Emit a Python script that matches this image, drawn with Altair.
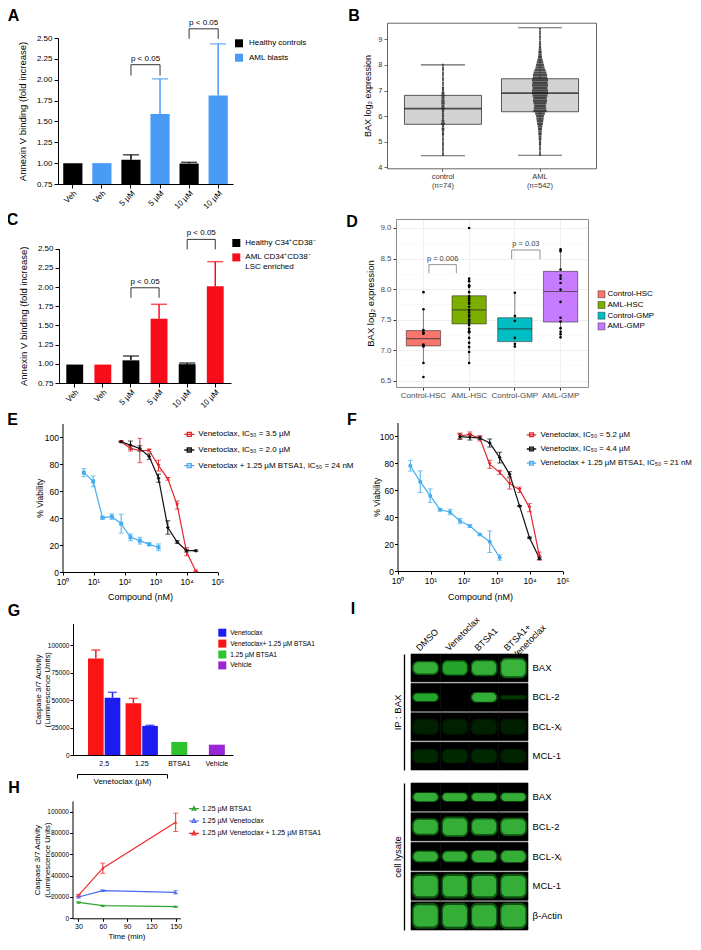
import altair as alt
import pandas as pd

W, H = 685, 934
FONT = "Liberation Sans"


def X(v):
    return v - 8


def Y(v):
    return v - 8


def off_b(y):
    return Y(y) - H


def off_l(x):
    return -X(x)


def off_t(y):
    return -Y(y)


def off_r(x):
    return X(x) - W


# ======================= DATA =======================
# ---- Panel A
a_ids = ["Veh|H", "Veh|A", "5 µM|H", "5 µM|A", "10 µM|H", "10 µM|A"]
a_series = ["Healthy controls", "AML blasts"]
a_grp = ["Healthy controls", "AML blasts", "Healthy controls", "AML blasts", "Healthy controls", "AML blasts"]
a_mean = [1.00, 1.00, 1.04, 1.59, 0.995, 1.81]
a_err = [0.0, 0.0, 0.06, 0.42, 0.015, 0.62]
a_br_left = ["5 µM|H", "10 µM|H"]
a_br_right = ["5 µM|A", "10 µM|A"]
a_br_top = [2.18, 2.61]
a_br_leg = [2.05, 2.49]
a_br_txt = ["p < 0.05", "p < 0.05"]

# ---- Panel C
c_series = ["Healthy C34⁺CD38⁻", "AML CD34⁺CD38⁻|LSC enriched"]
c_grp = [c_series[0], c_series[1], c_series[0], c_series[1], c_series[0], c_series[1]]
c_mean = [0.99, 0.99, 1.045, 1.585, 0.995, 2.01]
c_err = [0.0, 0.0, 0.055, 0.19, 0.015, 0.32]
c_br_top = [1.99, 2.62]
c_br_leg = [1.86, 2.49]

# ---- Panel B
b_cats = ["control|(n=74)", "AML|(n=542)"]
b_lo = [4.45, 4.47]
b_q1 = [5.68, 6.17]
b_med = [6.29, 6.90]
b_q3 = [6.81, 7.46]
b_hi = [8.00, 9.45]
b_ctrl_y = [4.5, 4.6, 4.7, 4.8, 4.9, 5.0, 5.1, 5.2, 5.3, 5.4, 5.5, 5.6, 5.7, 5.8, 5.9, 6.0, 6.1, 6.2,
            6.3, 6.4, 6.5, 6.6, 6.7, 6.8, 6.9, 7.0, 7.1, 7.2, 7.3, 7.4, 7.5, 7.6, 7.7, 7.8, 7.9, 8.0]
b_ctrl_n = [1, 1, 1, 1, 1, 1, 1, 1, 2, 2, 3, 2, 5, 3, 2, 2, 2, 2,
            4, 3, 4, 4, 3, 4, 3, 2, 2, 1, 1, 1, 1, 1, 1, 1, 1, 1]
b_aml_y = [4.5, 4.6, 4.7, 4.8, 4.9, 5.0, 5.1, 5.2, 5.3, 5.4, 5.5, 5.6, 5.7, 5.8, 5.9, 6.0, 6.1, 6.2,
           6.3, 6.4, 6.5, 6.6, 6.7, 6.8, 6.9, 7.0, 7.1, 7.2, 7.3, 7.4, 7.5, 7.6, 7.7, 7.8, 7.9, 8.0,
           8.1, 8.2, 8.3, 8.4, 8.5, 8.6, 8.7, 8.8, 8.9, 9.0, 9.1, 9.2, 9.3, 9.4]
b_aml_n = [1, 1, 1, 1, 2, 2, 3, 3, 4, 4, 5, 6, 8, 9, 10, 11, 14, 20,
           18, 17, 19, 21, 20, 22, 24, 24, 22, 24, 23, 24, 22, 21, 19, 16, 13, 11,
           9, 7, 5, 4, 4, 3, 2, 2, 1, 1, 1, 1, 1, 1]

# ---- Panel D
d_cats = ["Control-HSC", "AML-HSC", "Control-GMP", "AML-GMP"]
d_colors = ["#F8766D", "#7CAE00", "#00BFC4", "#C77CFF"]
d_lo = [6.79, 6.79, 7.07, 7.20]
d_q1 = [7.07, 7.43, 7.14, 7.46]
d_med = [7.19, 7.66, 7.35, 7.96]
d_q3 = [7.32, 7.89, 7.53, 8.29]
d_hi = [7.67, 8.17, 7.94, 8.65]
d_pts = {
    "Control-HSC": [7.95, 7.67, 7.33, 7.29, 7.27, 7.09, 7.07, 7.06, 6.79, 6.56],
    "AML-HSC": [9.0, 8.17, 8.13, 8.06, 8.05, 8.04, 7.95, 7.88, 7.85, 7.82, 7.78, 7.76, 7.71, 7.66,
                7.62, 7.58, 7.55, 7.50, 7.48, 7.45, 7.41, 7.35, 7.31, 7.30, 7.29, 7.20, 7.12, 7.05,
                6.97, 6.79],
    "Control-GMP": [7.94, 7.56, 7.48, 7.20, 7.10, 7.06],
    "AML-GMP": [8.65, 8.62, 8.32, 8.22, 8.17, 8.10, 7.99, 7.79, 7.53, 7.47, 7.36, 7.30, 7.26, 7.21],
}
d_br_x1 = [1.12, 2.93]
d_br_x2 = [1.72, 3.55]
d_br_top = [8.40, 8.64]
d_br_leg = [8.26, 8.49]
d_br_txt = ["p = 0.006", "p = 0.03"]

# ---- Panel E
e_names = ["Venetoclax, IC₅₀ = 3.5 µM", "Venetoclax, IC₅₀ = 2.0 µM", "Venetoclax + 1.25 µM BTSA1, IC₅₀ = 24 nM"]
e_conc_v = [78, 156, 312, 625, 1250, 2500, 5000, 10000, 20000]
e_conc_c = [4.88, 9.77, 19.5, 39, 78, 156, 312, 625, 1250]
e_red = [96.5, 91.6, 90.0, 90.0, 78.8, 69.0, 49.6, 15.0, 0.5]
e_red_err = [0.5, 2.0, 9.0, 1.0, 4.0, 1.0, 3.0, 3.0, 0.0]
e_black = [96.5, 94.0, 91.5, 85.5, 69.5, 33.0, 22.2, 15.8, 15.8]
e_black_err = [0.5, 3.0, 2.0, 2.0, 3.0, 5.0, 1.0, 1.0, 0.5]
e_blue = [73.6, 67.2, 40.2, 41.0, 35.8, 25.7, 23.2, 20.5, 18.3]
e_blue_err = [3.0, 4.0, 1.0, 2.0, 7.0, 2.5, 2.5, 1.0, 2.5]

# ---- Panel F
f_names = ["Venetoclax, IC₅₀ = 5.2 µM", "Venetoclax, IC₅₀ = 4.4 µM", "Venetoclax + 1.25 µM BTSA1, IC₅₀ = 21 nM"]
f_conc_v = [78, 156, 312, 625, 1250, 2500, 5000, 10000, 20000]
f_conc_c = [2.44, 4.88, 9.77, 19.5, 39, 78, 156, 312, 625, 1250]
f_red = [100.2, 101.0, 98.3, 79.0, 73.1, 64.7, 60.2, 46.9, 11.0]
f_red_err = [2.0, 2.0, 2.0, 3.0, 1.5, 4.0, 2.0, 3.0, 3.0]
f_black = [99.5, 99.0, 98.5, 94.8, 84.0, 71.6, 48.1, 24.7, 9.5]
f_black_err = [2.0, 2.0, 1.0, 3.0, 4.0, 2.0, 0.5, 0.5, 1.0]
f_blue = [78.0, 66.2, 55.8, 45.4, 43.7, 37.0, 33.3, 27.0, 21.7, 10.0]
f_blue_err = [4.0, 8.0, 5.0, 1.0, 2.0, 2.0, 1.0, 0.5, 8.0, 2.0]

# ---- Panel G
g_groups = ["2.5", "1.25", "BTSA1", "Vehicle"]
g_series = ["Venetoclax", "Venetoclax+ 1.25 µM BTSA1", "1.25 µM BTSA1", "Vehicle"]
g_colors = ["#1c1cf2", "#fa1414", "#2fc42f", "#9a25d4"]
g_pair_group = ["2.5", "2.5", "1.25", "1.25"]
g_pair_series = ["Venetoclax+ 1.25 µM BTSA1", "Venetoclax", "Venetoclax+ 1.25 µM BTSA1", "Venetoclax"]
g_pair_mean = [88000, 52300, 47200, 26500]
g_pair_err = [7800, 4900, 4500, 600]
g_single_group = ["BTSA1", "Vehicle"]
g_single_series = ["1.25 µM BTSA1", "Vehicle"]
g_single_mean = [11900, 9400]

# ---- Panel H
h_series = ["1.25 µM BTSA1", "1.25 µM Venetoclax", "1.25 µM Venetoclax +  1.25 µM BTSA1"]
h_colors = ["#2ea42e", "#4767f0", "#ec2a2a"]
h_time = [30, 60, 150]
h_vals = [[15000, 11800, 10900], [20000, 26000, 24400], [21500, 47000, 90000]]
h_errs = [[500, 400, 400], [900, 700, 1500], [900, 4800, 8600]]

# ---- Panel I (western blot: band amount = thickness, signal = brightness)
blot_lanes = ["DMSO", "Venetoclax", "BTSA1", "BTSA1+|Venetoclax"]
ip_rows = ["BAX", "BCL-2", "BCL-Xₗ", "MCL-1"]
ip_amount = [[0.42, 0.48, 0.50, 0.62], [0.28, 0.0, 0.32, 0.14], [0.5, 0.5, 0.5, 0.5], [0.45, 0.45, 0.45, 0.45]]
ip_signal = [[0.95, 0.90, 0.95, 0.97], [0.90, 0.0, 0.95, 0.25], [0.05, 0.06, 0.05, 0.04], [0.15, 0.15, 0.15, 0.12]]
ly_rows = ["BAX", "BCL-2", "BCL-Xₗ", "MCL-1", "β-Actin"]
ly_amount = [[0.30, 0.28, 0.28, 0.28], [0.52, 0.62, 0.54, 0.56], [0.36, 0.36, 0.40, 0.40],
             [0.75, 0.75, 0.75, 0.75], [0.78, 0.80, 0.78, 0.80]]
ly_signal = [[0.95, 0.95, 0.95, 0.95], [0.95, 0.95, 0.95, 0.95], [0.95, 0.95, 0.95, 0.95],
             [0.95, 0.95, 0.95, 0.95], [0.95, 0.95, 0.95, 0.95]]

panel_letters = {"A": (13.5, 16), "B": (354, 16), "C": (12.5, 220), "D": (352, 222),
                 "E": (12.5, 419.5), "F": (352, 420), "G": (14, 611), "H": (14, 787.5), "I": (353, 609)}


def inner(*charts):
    return alt.layer(*charts).resolve_axis(x="independent", y="independent").resolve_legend(
        color="independent", shape="independent", size="independent")


# ======================= BUILDERS =======================
def bar_panel(ids, grp, mean, err, series, colors, br_left, br_right, br_top, br_leg, br_txt,
              xr, pin, pout, yb, yt, ax_x, title_x, leg):
    df = pd.DataFrame({"id": ids, "grp": grp, "mean": mean, "err": err})
    df["top"] = df["mean"] + df["err"]
    de = df[df["err"] > 0]
    xs = alt.Scale(domain=ids, range=[X(xr[0]), X(xr[1])], paddingInner=pin, paddingOuter=pout)
    ys = alt.Scale(domain=[0.75, 2.5], range=[Y(yb), Y(yt)], zero=False, nice=False)
    cs = alt.Scale(domain=series, range=colors)
    step = (xr[1] - xr[0]) / (len(ids) - pin + 2 * pout)
    xax = alt.Axis(orient="bottom", offset=off_b(yb), title=None, labelExpr="split(datum.value, '|')[0]",
                   labelAngle=315, labelAlign="right", labelBaseline="top", tickSize=4, labelPadding=1,
                   bandPosition=0.5, labelFontSize=8, labelOverlap=False)
    yax = alt.Axis(orient="left", offset=off_l(ax_x), title="Annexin V binding (fold increase)",
                   values=[0.75, 1.0, 1.25, 1.5, 1.75, 2.0, 2.25, 2.5], format=".2f", tickSize=4,
                   labelPadding=2, labelFontSize=8, titleFontSize=9.5, titleX=title_x - ax_x,
                   titleBaseline="middle")
    bars = alt.Chart(df).mark_bar().encode(
        x=alt.X("id:N", scale=xs, axis=xax),
        y=alt.Y("mean:Q", scale=ys, axis=yax),
        y2=alt.datum(0.75),
        color=alt.Color("grp:N", scale=cs, legend=leg))
    xe = alt.X("id:N", scale=xs, axis=None)
    rule = alt.Chart(de).mark_rule(strokeWidth=1.5).encode(
        x=xe, y=alt.Y("mean:Q", scale=ys, axis=None), y2="top:Q",
        color=alt.Color("grp:N", scale=cs, legend=None))
    cap = alt.Chart(de).mark_tick(orient="horizontal", size=16, thickness=1.5).encode(
        x=xe, y=alt.Y("top:Q", scale=ys, axis=None), color=alt.Color("grp:N", scale=cs, legend=None))
    rows = []
    for i in range(len(br_left)):
        pts = [(br_left[i], br_leg[i]), (br_left[i], br_top[i]), (br_right[i], br_top[i]), (br_right[i], br_leg[i])]
        for o, (cx, cy) in enumerate(pts):
            rows.append({"b": i, "o": o, "cx": cx, "cy": cy})
    bdf = pd.DataFrame(rows)
    brl = alt.Chart(bdf).mark_line(color="black", strokeWidth=0.8).encode(
        x=alt.X("cx:N", scale=xs, axis=None), y=alt.Y("cy:Q", scale=ys, axis=None),
        detail="b:N", order="o:Q")
    tdf = pd.DataFrame({"cx": br_left, "cy": br_top, "t": br_txt})
    brt = alt.Chart(tdf).mark_text(dx=step / 2, dy=-2, baseline="bottom", fontSize=8).encode(
        x=alt.X("cx:N", scale=xs, axis=None), y=alt.Y("cy:Q", scale=ys, axis=None), text="t:N")
    return inner(bars, rule, cap, brl, brt)


def dose_panel(names, colors, shapes, concs, vals, errs, xr, yb, yt, ax_x, title_x, title_y, leg):
    rows = []
    for n, cc, vv, ee in zip(names, concs, vals, errs):
        for c, v, e in zip(cc, vv, ee):
            rows.append({"s": n, "c": c, "v": v, "lo": v - e, "hi": v + e})
    df = pd.DataFrame(rows)
    xs = alt.Scale(type="log", domain=[1, 100000], range=[X(xr[0]), X(xr[1])], nice=False)
    ys = alt.Scale(domain=[0, 110], range=[Y(yb), Y(yt)], nice=False, zero=False)
    cs = alt.Scale(domain=names, range=colors)
    ss = alt.Scale(domain=names, range=shapes)
    sup = "'10' + ['⁰','¹','²','³','⁴','⁵'][round(log(datum.value) / LN10)]"
    xax = alt.Axis(orient="bottom", offset=off_b(yb), values=[1, 10, 100, 1000, 10000, 100000],
                   labelExpr=sup, title="Compound (nM)", tickSize=3, labelPadding=2, labelFontSize=8.5,
                   titleFontSize=9, titleY=title_y - yb, titleBaseline="middle", labelFlush=False,
                   labelOverlap=False)
    yax = alt.Axis(orient="left", offset=off_l(ax_x), values=[0, 20, 40, 60, 80, 100], title="% Viability",
                   tickSize=3, labelPadding=1, labelFontSize=8.5, titleFontSize=8.5,
                   titleX=title_x - ax_x, titleBaseline="middle")
    xe = alt.X("c:Q", scale=xs, axis=None)
    line = alt.Chart(df).mark_line(strokeWidth=1.2).encode(
        x=alt.X("c:Q", scale=xs, axis=xax), y=alt.Y("v:Q", scale=ys, axis=yax),
        color=alt.Color("s:N", scale=cs, legend=leg))
    rule = alt.Chart(df).mark_rule(strokeWidth=1).encode(
        x=xe, y=alt.Y("lo:Q", scale=ys, axis=None), y2="hi:Q", color=alt.Color("s:N", scale=cs, legend=None))
    cap_lo = alt.Chart(df).mark_tick(orient="horizontal", size=5, thickness=1).encode(
        x=xe, y=alt.Y("lo:Q", scale=ys, axis=None), color=alt.Color("s:N", scale=cs, legend=None))
    cap_hi = alt.Chart(df).mark_tick(orient="horizontal", size=5, thickness=1).encode(
        x=xe, y=alt.Y("hi:Q", scale=ys, axis=None), color=alt.Color("s:N", scale=cs, legend=None))
    pts = alt.Chart(df).mark_point(filled=True, size=16, opacity=1).encode(
        x=xe, y=alt.Y("v:Q", scale=ys, axis=None),
        color=alt.Color("s:N", scale=cs, legend=None), shape=alt.Shape("s:N", scale=ss, legend=None))
    return inner(line, rule, cap_lo, cap_hi, pts)


def blot_section(rows, amounts, signals, y0, y1, title, show_lanes):
    bg = pd.DataFrame([{"lane": l, "row": r} for r in rows for l in blot_lanes])
    bands = pd.DataFrame([{"lane": l, "row": r, "amt": amounts[i][j], "sig": signals[i][j]}
                          for i, r in enumerate(rows) for j, l in enumerate(blot_lanes)])
    xs = alt.Scale(domain=blot_lanes, range=[X(411), X(528)], paddingInner=0, paddingOuter=0)
    ys = alt.Scale(domain=rows, range=[Y(y0), Y(y1)], paddingInner=0.05, paddingOuter=0)
    if show_lanes:
        top_axis = alt.Axis(orient="top", offset=off_t(y0), labelAngle=315, labelAlign="left",
                            labelBaseline="middle", labelExpr="split(datum.value, '|')", ticks=False,
                            domain=False, labelPadding=5, labelOffset=-8, title=None, labelFontSize=9,
                            labelOverlap=False, labelBound=False)
    else:
        top_axis = None
    bgl = alt.Chart(bg).mark_rect(color="black", stroke="black", strokeWidth=0.6).encode(
        x=alt.X("lane:N", scale=xs, axis=top_axis),
        y=alt.Y("row:N", scale=ys, axis=alt.Axis(orient="right", offset=off_r(528), ticks=False,
                                                 domain=False, labelPadding=4, labelFontSize=9.5,
                                                 title=None)))
    side = alt.Chart(bg).mark_rect(opacity=0).encode(
        x=alt.X("lane:N", scale=xs, axis=None),
        y=alt.Y("row:N", scale=ys, axis=alt.Axis(orient="left", offset=off_l(404), labels=False, ticks=False,
                                                 domainWidth=1.3, title=title, titleFontSize=9.5,
                                                 titleX=-7, titleBaseline="middle")))
    xb = alt.X("lane:N", scale=xs, axis=None)
    yb = alt.Y("row:N", scale=ys, axis=None)
    glow = alt.Chart(bands).mark_tick(orient="vertical", thickness=27, cornerRadius=6).encode(
        x=xb, y=yb,
        size=alt.Size("amt:Q", scale=alt.Scale(domain=[0, 1], range=[0, 33]), legend=None),
        color=alt.Color("sig:Q", scale=alt.Scale(domain=[0, 1], range=["#000000", "#1d7a1d"]), legend=None))
    core = alt.Chart(bands).mark_tick(orient="vertical", thickness=24, cornerRadius=5).encode(
        x=xb, y=yb,
        size=alt.Size("amt:Q", scale=alt.Scale(domain=[0, 1], range=[0, 27]), legend=None),
        color=alt.Color("sig:Q", scale=alt.Scale(domain=[0, 1], range=["#000000", "#52e252"]), legend=None))
    return alt.layer(bgl, glow, core, side).resolve_scale(size="independent", color="independent").resolve_axis(
        x="independent", y="independent")


# ======================= PANELS =======================
layers = []

# ---- A
legA = alt.Legend(orient="none", legendX=X(235), legendY=Y(39.3), title=None, symbolType="square",
                  symbolSize=64, symbolStrokeWidth=0, labelFontSize=8, labelOffset=6, rowPadding=6.4, padding=0)
layers.append(bar_panel(a_ids, a_grp, a_mean, a_err, a_series, ["#000000", "#4a9bf5"],
                        a_br_left, a_br_right, a_br_top, a_br_leg, a_br_txt,
                        (58, 233), 0.34, 0.18, 184, 38, 58, 22.7, legA))

# ---- C
legC = alt.Legend(orient="none", legendX=X(232.3), legendY=Y(239), title=None, symbolType="square",
                  symbolSize=64, symbolStrokeWidth=0, labelFontSize=8, labelOffset=5, rowPadding=6.4,
                  padding=0, labelExpr="split(datum.label, '|')")
layers.append(bar_panel(a_ids, c_grp, c_mean, c_err, c_series, ["#000000", "#f70d1a"],
                        a_br_left, a_br_right, c_br_top, c_br_leg, a_br_txt,
                        (59, 231), 0.40, 0.26, 383, 248.6, 59, 23.5, legC))

# ---- B
b_df = pd.DataFrame({"cat": b_cats, "lo": b_lo, "q1": b_q1, "med": b_med, "q3": b_q3, "hi": b_hi})
b_sw = pd.DataFrame({"cat": [b_cats[0]] * len(b_ctrl_y) + [b_cats[1]] * len(b_aml_y),
                     "y": b_ctrl_y + b_aml_y, "n": b_ctrl_n + b_aml_n})
xs_b = alt.Scale(domain=b_cats, range=[X(387), X(596)], paddingInner=0.206, paddingOuter=0.18)
ys_b = alt.Scale(domain=[3.96, 9.65], range=[Y(168.3), Y(22.7)], nice=False, zero=False)
xbn = alt.X("cat:N", scale=xs_b, axis=None)
b_box = alt.Chart(b_df).mark_bar(fill="#d3d3d3", stroke="#333333", strokeWidth=0.8).encode(
    x=alt.X("cat:N", scale=xs_b, axis=alt.Axis(orient="bottom", offset=off_b(168.3), title=None,
                                               labelExpr="split(datum.value, '|')", tickSize=3, labelPadding=1,
                                               labelAngle=0, labelFontSize=7.5, labelColor="#333333",
                                               domainColor="#666666", tickColor="#666666", bandPosition=0.5)),
    y=alt.Y("q1:Q", scale=ys_b, axis=alt.Axis(orient="left", offset=off_l(387), values=[4, 5, 6, 7, 8, 9],
                                              title="BAX log₂ expression", tickSize=3, labelFontSize=7.5,
                                              labelColor="#333333", domainColor="#666666", tickColor="#666666",
                                              titleFontSize=9, titleX=367.5 - 387, titleBaseline="middle")),
    y2="q3:Q")
b_w1 = alt.Chart(b_df).mark_rule(color="#333333", strokeWidth=0.8, strokeDash=[3, 2]).encode(
    x=xbn, y=alt.Y("lo:Q", scale=ys_b, axis=None), y2="q1:Q")
b_w2 = alt.Chart(b_df).mark_rule(color="#333333", strokeWidth=0.8, strokeDash=[3, 2]).encode(
    x=xbn, y=alt.Y("q3:Q", scale=ys_b, axis=None), y2="hi:Q")
b_c1 = alt.Chart(b_df).mark_tick(orient="horizontal", size=44, thickness=1.1, color="#222222").encode(
    x=xbn, y=alt.Y("lo:Q", scale=ys_b, axis=None))
b_c2 = alt.Chart(b_df).mark_tick(orient="horizontal", size=44, thickness=1.1, color="#222222").encode(
    x=xbn, y=alt.Y("hi:Q", scale=ys_b, axis=None))
b_swarm = alt.Chart(b_sw).mark_tick(orient="horizontal", thickness=2.4, color="#2a2a2a", opacity=0.85).encode(
    x=xbn, y=alt.Y("y:Q", scale=ys_b, axis=None),
    size=alt.Size("n:Q", scale=alt.Scale(domain=[1, 24], range=[1.5, 16], zero=False), legend=None))
b_med_l = alt.Chart(b_df).mark_tick(orient="horizontal", size=77, thickness=1.8, color="#111111").encode(
    x=xbn, y=alt.Y("med:Q", scale=ys_b, axis=None))
b_frame = alt.Chart(b_df).mark_point(opacity=0).encode(
    x=alt.X("cat:N", scale=xs_b, axis=alt.Axis(orient="top", offset=off_t(22.7), labels=False, ticks=False,
                                               title=None, domainColor="#666666")),
    y=alt.Y("med:Q", scale=ys_b, axis=alt.Axis(orient="right", offset=off_r(596), labels=False, ticks=False,
                                               title=None, domainColor="#666666")))
layers.append(inner(b_box, b_w1, b_w2, b_c1, b_c2, b_swarm, b_med_l, b_frame))

# ---- D
d_df = pd.DataFrame({"cat": d_cats, "lo": d_lo, "q1": d_q1, "med": d_med, "q3": d_q3, "hi": d_hi})
d_pt = pd.DataFrame([{"cat": k, "v": v} for k in d_cats for v in d_pts[k]])
xs_d = alt.Scale(domain=d_cats, range=[X(396), X(588)], paddingInner=0.25, paddingOuter=0.225)
ys_d = alt.Scale(domain=[6.397, 9.147], range=[Y(387), Y(219)], nice=False, zero=False)
cs_d = alt.Scale(domain=d_cats, range=d_colors)
xdn = alt.X("cat:N", scale=xs_d, axis=None)
legD = alt.Legend(orient="none", legendX=X(597.5), legendY=Y(290.3), title=None, symbolType="square",
                  symbolSize=49, symbolStrokeColor="#333333", symbolStrokeWidth=0.5, labelFontSize=8,
                  labelOffset=2, rowPadding=0.7, padding=0)
d_minor = alt.Chart(d_df).mark_point(opacity=0).encode(
    x=xdn,
    y=alt.Y("med:Q", scale=ys_d, axis=alt.Axis(orient="left", offset=off_l(396), labels=False, ticks=False,
                                               domain=False, title=None, grid=True, gridColor="#f4f4f4",
                                               gridWidth=0.5, values=[6.75, 7.25, 7.75, 8.25, 8.75])))
d_w1 = alt.Chart(d_df).mark_rule(color="#333333", strokeWidth=0.6).encode(
    x=xdn, y=alt.Y("lo:Q", scale=ys_d, axis=None), y2="q1:Q")
d_w2 = alt.Chart(d_df).mark_rule(color="#333333", strokeWidth=0.6).encode(
    x=xdn, y=alt.Y("q3:Q", scale=ys_d, axis=None), y2="hi:Q")
d_box = alt.Chart(d_df).mark_bar(stroke="#333333", strokeWidth=0.6).encode(
    x=alt.X("cat:N", scale=xs_d, axis=alt.Axis(orient="bottom", offset=off_b(387), title=None, tickSize=3,
                                               labelPadding=1, labelAngle=0, labelFontSize=8,
                                               labelColor="#4d4d4d", domainColor="#8c8c8c",
                                               tickColor="#333333", bandPosition=0.5)),
    y=alt.Y("q1:Q", scale=ys_d, axis=alt.Axis(orient="left", offset=off_l(396),
                                              values=[6.5, 7.0, 7.5, 8.0, 8.5, 9.0], format=".1f",
                                              title="BAX log₂ expression", tickSize=3, labelPadding=2,
                                              labelFontSize=8, labelColor="#4d4d4d", domainColor="#8c8c8c",
                                              tickColor="#333333", grid=True, gridColor="#ebebeb",
                                              gridWidth=0.8, titleFontSize=9.5, titleX=370 - 396,
                                              titleBaseline="middle")),
    y2="q3:Q",
    color=alt.Color("cat:N", scale=cs_d, legend=legD))
d_med_l = alt.Chart(d_df).mark_tick(orient="horizontal", size=34, thickness=1.2, color="#333333").encode(
    x=xdn, y=alt.Y("med:Q", scale=ys_d, axis=None))
d_dots = alt.Chart(d_pt).mark_circle(size=7, color="black", opacity=1).encode(
    x=xdn, y=alt.Y("v:Q", scale=ys_d, axis=None))
d_frame = alt.Chart(d_df).mark_point(opacity=0).encode(
    x=alt.X("cat:N", scale=xs_d, axis=alt.Axis(orient="top", offset=off_t(219), labels=False, ticks=False,
                                               title=None, domainColor="#8c8c8c", grid=True,
                                               gridColor="#ebebeb", gridWidth=0.8, bandPosition=0.5)),
    y=alt.Y("med:Q", scale=ys_d, axis=alt.Axis(orient="right", offset=off_r(588), labels=False, ticks=False,
                                               title=None, domainColor="#8c8c8c")))
layers.append(inner(d_frame, d_minor, d_w1, d_w2, d_box, d_med_l, d_dots))

# D brackets (own numeric scale over the category positions)
xs_dq = alt.Scale(domain=[0.4, 4.6], range=[X(396), X(588)], nice=False, zero=False)
d_br_rows = []
for i in range(len(d_br_x1)):
    pts = [(d_br_x1[i], d_br_leg[i]), (d_br_x1[i], d_br_top[i]), (d_br_x2[i], d_br_top[i]), (d_br_x2[i], d_br_leg[i])]
    for o, (cx, cy) in enumerate(pts):
        d_br_rows.append({"b": i, "o": o, "cx": cx, "cy": cy})
d_brl = alt.Chart(pd.DataFrame(d_br_rows)).mark_line(color="#666666", strokeWidth=0.7).encode(
    x=alt.X("cx:Q", scale=xs_dq, axis=None), y=alt.Y("cy:Q", scale=ys_d, axis=None), detail="b:N", order="o:Q")
d_brt = alt.Chart(pd.DataFrame({"x1": d_br_x1, "x2": d_br_x2, "cy": d_br_top, "t": d_br_txt})).transform_calculate(
    mx="(datum.x1 + datum.x2) / 2").mark_text(dy=-2, baseline="bottom", fontSize=7.5, color="#444444").encode(
    x=alt.X("mx:Q", scale=xs_dq, axis=None), y=alt.Y("cy:Q", scale=ys_d, axis=None), text="t:N")
layers.append(inner(d_brl, d_brt))

# ---- E
sym_sq = "M-1,0H1M-0.4,-0.4H0.4V0.4H-0.4Z"
legE = alt.Legend(orient="none", legendX=X(183.3), legendY=Y(428.3), title=None, symbolType=sym_sq,
                  symbolSize=100, symbolStrokeWidth=1.3, labelFontSize=8, labelOffset=3, rowPadding=4.7,
                  padding=0, labelLimit=300)
layers.append(dose_panel(e_names, ["#e3242b", "#111111", "#45aef0"], ["triangle-down", "diamond", "square"],
                         [e_conc_v, e_conc_v, e_conc_c], [e_red, e_black, e_blue],
                         [e_red_err, e_black_err, e_blue_err], (62.5, 217.5), 572, 423.5, 62.5,
                         39.3, 596.5, legE))

# ---- F
legF = alt.Legend(orient="none", legendX=X(526), legendY=Y(429.3), title=None, symbolType=sym_sq,
                  symbolSize=90, symbolStrokeWidth=1.3, labelFontSize=7.8, labelOffset=3.5, rowPadding=4.2,
                  padding=0, labelLimit=300)
layers.append(dose_panel(f_names, ["#e3242b", "#111111", "#45aef0"], ["triangle-down", "diamond", "circle"],
                         [f_conc_v, f_conc_v, f_conc_c], [f_red, f_black, f_blue],
                         [f_red_err, f_black_err, f_blue_err], (397.5, 562.5), 571, 422.5, 397.5,
                         376.7, 596.5, legF))

# ---- G
g_pair = pd.DataFrame({"g": g_pair_group, "s": g_pair_series, "m": g_pair_mean, "e": g_pair_err})
g_pair["top"] = g_pair["m"] + g_pair["e"]
g_single = pd.DataFrame({"g": g_single_group, "s": g_single_series, "m": g_single_mean})
xs_g = alt.Scale(domain=g_groups, range=[X(73), X(233)], paddingInner=0.14, paddingOuter=0.2, align=1)
xo_g = alt.Scale(domain=["Venetoclax+ 1.25 µM BTSA1", "Venetoclax"], paddingInner=0.06)
ys_g = alt.Scale(domain=[0, 120000], range=[Y(755), Y(623.5)], nice=False)
cs_g = alt.Scale(domain=g_series, range=g_colors)
legG = alt.Legend(orient="none", legendX=X(218.3), legendY=Y(628.7), title=None, symbolType="square",
                  symbolSize=64, symbolStrokeWidth=0, labelFontSize=6.6, labelOffset=4, rowPadding=2.9, padding=0)
g_bars = alt.Chart(g_pair).mark_bar().encode(
    x=alt.X("g:N", scale=xs_g, axis=alt.Axis(orient="bottom", offset=off_b(755), title=None, tickSize=0,
                                             labelPadding=4, labelFontSize=7, labelAngle=0)),
    xOffset=alt.XOffset("s:N", scale=xo_g),
    y=alt.Y("m:Q", scale=ys_g, axis=alt.Axis(orient="left", offset=off_l(73),
                                             values=[0, 25000, 50000, 75000, 100000], format="d",
                                             title=["Caspase 3/7 Activity", "(Luminescence Units)"],
                                             tickSize=3, labelPadding=1, labelFontSize=6.5, titleFontSize=7.8,
                                             titleX=38 - 73, titleBaseline="middle", titleLineHeight=9.5)),
    y2=alt.datum(0),
    color=alt.Color("s:N", scale=cs_g, legend=legG))
g_rule = alt.Chart(g_pair).mark_rule(strokeWidth=1.5).encode(
    x=alt.X("g:N", scale=xs_g, axis=None), xOffset=alt.XOffset("s:N", scale=xo_g),
    y=alt.Y("m:Q", scale=ys_g, axis=None), y2="top:Q", color=alt.Color("s:N", scale=cs_g, legend=None))
g_cap = alt.Chart(g_pair).mark_tick(orient="horizontal", size=9, thickness=1.5).encode(
    x=alt.X("g:N", scale=xs_g, axis=None), xOffset=alt.XOffset("s:N", scale=xo_g),
    y=alt.Y("top:Q", scale=ys_g, axis=None), color=alt.Color("s:N", scale=cs_g, legend=None))
g_sb = alt.Chart(g_single).mark_bar(width=16).encode(
    x=alt.X("g:N", scale=xs_g, axis=None), y=alt.Y("m:Q", scale=ys_g, axis=None), y2=alt.datum(0),
    color=alt.Color("s:N", scale=cs_g, legend=None))
layers.append(inner(g_bars, g_rule, g_cap, g_sb))

# "Venetoclax (µM)" bracket below the first two groups of G
layers.append(alt.Chart(pd.DataFrame({"v": [0, 1]})).mark_point(opacity=0).encode(
    x=alt.X("v:Q", scale=alt.Scale(domain=[0, 1], range=[X(77), X(167)], nice=False),
            axis=alt.Axis(orient="bottom", offset=off_b(774), values=[0, 1], labels=False, tickSize=4,
                          title="Venetoclax (µM)", titleFontSize=8, titleY=7.7, titleBaseline="middle",
                          domainWidth=1))))

# ---- H
h_rows = []
for s, vv, ee in zip(h_series, h_vals, h_errs):
    for t, v, e in zip(h_time, vv, ee):
        h_rows.append({"s": s, "t": t, "v": v, "lo": v - e, "hi": v + e})
h_df = pd.DataFrame(h_rows)
xs_h = alt.Scale(domain=[22.6, 155.7], range=[X(72.5), X(180.3)], nice=False, zero=False)
ys_h = alt.Scale(domain=[0, 110000], range=[Y(918.3), Y(801)], nice=False)
cs_h = alt.Scale(domain=h_series, range=h_colors)
legH = alt.Legend(orient="none", legendX=X(188), legendY=Y(802.7), title=None,
                  symbolType="M-1,0H1M0,-0.45L0.4,0.3H-0.4Z", symbolSize=100, symbolStrokeWidth=1.2,
                  labelFontSize=7, labelOffset=2, rowPadding=2.3, padding=0, labelLimit=300)
xh = alt.X("t:Q", scale=xs_h, axis=None)
h_line = alt.Chart(h_df).mark_line(strokeWidth=1.2).encode(
    x=alt.X("t:Q", scale=xs_h, axis=alt.Axis(orient="bottom", offset=off_b(918.3), values=[30, 60, 90, 120, 150],
                                             title="Time (min)", tickSize=3, labelPadding=1, labelFontSize=7,
                                             titleFontSize=7.8, titleY=936.7 - 918.3, titleBaseline="middle",
                                             labelFlush=False)),
    y=alt.Y("v:Q", scale=ys_h, axis=alt.Axis(orient="left", offset=off_l(72.5),
                                             values=[0, 20000, 40000, 60000, 80000, 100000], format="d",
                                             title=["Caspase 3/7 Activity", "(Luminescence Units)"],
                                             tickSize=3, labelPadding=1, labelFontSize=6.5, titleFontSize=7.8,
                                             titleX=37.8 - 72.5, titleBaseline="middle", titleLineHeight=9.5)),
    color=alt.Color("s:N", scale=cs_h, legend=legH))
h_rule = alt.Chart(h_df).mark_rule(strokeWidth=1).encode(
    x=xh, y=alt.Y("lo:Q", scale=ys_h, axis=None), y2="hi:Q", color=alt.Color("s:N", scale=cs_h, legend=None))
h_c1 = alt.Chart(h_df).mark_tick(orient="horizontal", size=5, thickness=1).encode(
    x=xh, y=alt.Y("lo:Q", scale=ys_h, axis=None), color=alt.Color("s:N", scale=cs_h, legend=None))
h_c2 = alt.Chart(h_df).mark_tick(orient="horizontal", size=5, thickness=1).encode(
    x=xh, y=alt.Y("hi:Q", scale=ys_h, axis=None), color=alt.Color("s:N", scale=cs_h, legend=None))
h_pts = alt.Chart(h_df).mark_point(filled=True, size=10, shape="triangle-up", opacity=1).encode(
    x=xh, y=alt.Y("v:Q", scale=ys_h, axis=None), color=alt.Color("s:N", scale=cs_h, legend=None))
layers.append(inner(h_line, h_rule, h_c1, h_c2, h_pts))

# ---- I
layers.append(blot_section(ip_rows, ip_amount, ip_signal, 654, 770, "IP : BAX", True))
layers.append(blot_section(ly_rows, ly_amount, ly_signal, 783, 930, "cell lysate", False))

# ---- panel letters
for letter, (lx, ly) in panel_letters.items():
    layers.append(alt.Chart(pd.DataFrame({"t": [letter]})).mark_text(
        fontSize=16, fontWeight="bold", align="center", baseline="middle").encode(
        text="t:N", x=alt.value(X(lx)), y=alt.value(Y(ly))))

chart = alt.layer(*layers).resolve_scale(
    x="independent", y="independent", color="independent", size="independent", shape="independent",
    xOffset="independent").resolve_axis(x="independent", y="independent").resolve_legend(
    color="independent", size="independent", shape="independent").properties(
    width=W, height=H, padding=0, autosize=alt.AutoSizeParams(type="none")
).configure(font=FONT).configure_view(stroke=None).configure_axis(
    labelFont=FONT, titleFont=FONT, titleFontWeight="normal", labelColor="black", titleColor="black",
    domainColor="black", tickColor="black", grid=False
).configure_legend(labelFont=FONT, titleFont=FONT, labelColor="black")

chart.save("out.html", embed_options={"renderer": "svg", "actions": False})
